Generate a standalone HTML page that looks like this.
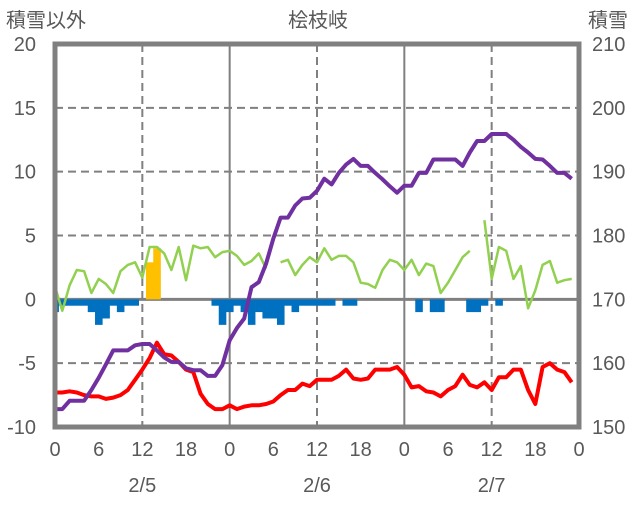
<!DOCTYPE html>
<html><head><meta charset="utf-8"><style>
body{margin:0;background:#fff;}
svg text{font-family:"Liberation Sans","Noto Sans CJK JP",sans-serif;fill:#595959;}
</style></head><body>
<svg id="chart" width="636" height="501" xmlns="http://www.w3.org/2000/svg">
<text x="6" y="27" font-size="20">積雪以外</text>
<text x="318" y="27" font-size="20" text-anchor="middle">桧枝岐</text>
<text x="588" y="27" font-size="20">積雪</text>
<g id="grid"></g><g id="bars"></g><g id="lines"></g><g id="frame"></g><g id="labels"></g>
</svg>
<script>
const hourTicks=["0","6","12","18","0","6","12","18","0","6","12","18","0"];
const dateLabels=["2/5","2/6","2/7"];
const leftTicks=[20,15,10,5,0,-5,-10];
const rightTicks=[210,200,190,180,170,160,150];
const snowDepth=[152.8,152.8,154.1,154.1,154.1,155.8,157.7,159.8,162.0,162.0,162.0,162.8,163.0,163.0,162.0,160.9,160.2,160.2,159.2,158.9,158.9,158.0,158.0,159.7,163.6,165.5,167.0,171.9,172.7,175.6,179.5,182.8,182.8,184.7,185.8,185.9,187.0,188.9,188.0,189.8,191.1,192.0,190.9,190.9,189.8,188.8,187.7,186.7,187.8,187.8,189.8,189.8,191.9,191.9,191.9,191.9,190.9,193.0,194.8,194.8,195.9,195.9,195.9,195.0,193.9,193.0,192.0,191.9,190.9,189.8,189.8,188.9];
const temperature=[-7.3,-7.3,-7.2,-7.3,-7.5,-7.6,-7.6,-7.8,-7.7,-7.5,-7.1,-6.3,-5.5,-4.6,-3.4,-4.3,-4.4,-4.9,-5.5,-5.7,-7.4,-8.2,-8.6,-8.6,-8.3,-8.6,-8.4,-8.3,-8.3,-8.2,-8.0,-7.5,-7.1,-7.1,-6.6,-6.8,-6.3,-6.3,-6.3,-6.0,-5.5,-6.2,-6.3,-6.2,-5.5,-5.5,-5.5,-5.3,-5.9,-6.9,-6.8,-7.2,-7.3,-7.6,-7.1,-6.8,-5.9,-6.7,-6.9,-6.5,-7.1,-6.1,-6.1,-5.5,-5.5,-7.1,-8.2,-5.3,-5.0,-5.5,-5.7,-6.5];
const wind=[1.0,-0.9,1.1,2.3,2.2,0.5,1.6,1.2,0.5,2.2,2.7,2.9,1.7,4.1,4.1,3.6,2.3,4.1,1.5,4.2,4.0,4.1,3.3,3.7,3.8,3.4,2.7,3.0,3.6,2.4,null,2.9,3.1,1.9,2.7,3.3,2.9,4.0,3.1,3.4,3.4,2.9,1.3,1.2,0.9,2.3,3.1,2.9,2.3,3.1,1.9,2.8,2.6,0.5,1.3,2.3,3.3,3.8,null,6.2,1.6,4.1,3.8,1.6,2.6,-0.7,0.7,2.7,3.0,1.3,1.5,1.6];
const snowChange=[-1.0,-0.5,-0.5,-0.5,-0.5,-1.0,-2.0,-1.5,-0.5,-1.0,-0.5,-0.5,0,2.9,4.0,0,0,0,0,0,0,0,-0.5,-2.0,-1.0,-0.5,-1.0,-2.0,-1.0,-1.5,-1.5,-2.0,-0.5,-1.0,-0.5,-0.5,-0.5,-0.5,-0.5,0,-0.5,-0.5,0,0,0,0,0,0,0,0,-1.0,0,-1.0,-1.0,0,0,0,-1.0,-1.0,-0.5,0,-0.5,0,0,0,0,0,0,0,0,0,0];

const X0=55,X1=579,Y0=44,Y1=427,NS="http://www.w3.org/2000/svg";
const xH=h=>X0+(X1-X0)*h/72;
const yL=v=>Y1-(v+10)/30*(Y1-Y0);
const yR=v=>Y1-(v-150)/60*(Y1-Y0);
function mk(tag,attrs,parent){const e=document.createElementNS(NS,tag);for(const k in attrs)e.setAttribute(k,attrs[k]);document.getElementById(parent).appendChild(e);return e;}
// grid
[15,10,5,-5].forEach(v=>{const l=mk('line',{x1:X0,x2:X1,y1:yL(v),y2:yL(v),stroke:'#808080','stroke-width':2,'stroke-dasharray':'8,5'},'grid');

});
[12,36,60].forEach(h=>{const l=mk('line',{x1:xH(h),x2:xH(h),y1:Y0,y2:Y1,stroke:'#808080','stroke-width':2,'stroke-dasharray':'8,5'},'grid');

});
[24,48].forEach(h=>{const l=mk('line',{x1:xH(h),x2:xH(h),y1:Y0,y2:Y1,stroke:'#808080','stroke-width':2},'grid');

});
// bars
const bw=(X1-X0)/72;
snowChange.forEach((v,i)=>{if(!v)return;const c=xH(i);let x=Math.max(X0,c-bw/2),w=Math.min(c+bw/2,X1)-x;
const b=mk('rect',{x:x,width:w+0.3,y:Math.min(yL(0),yL(v)),height:Math.abs(yL(v)-yL(0)),fill:v>0?'#FFC000':'#0070C0'},'bars');

});
// zero line
const z=mk('line',{x1:X0,x2:X1,y1:yL(0),y2:yL(0),stroke:'#808080','stroke-width':3},'grid');


function series(arr,yf,color,name){let d='',pen=false;arr.forEach((v,i)=>{if(v===null){pen=false;return;}d+=(pen?'L':'M')+xH(i).toFixed(1)+','+yf(v).toFixed(1);pen=true;});
const p=mk('path',{d:d,fill:'none',stroke:color,'stroke-width':name==='wind-line'?2.5:4,'stroke-linejoin':'round'},'lines');

}
series(wind,yL,'#92D050','wind-line');
series(temperature,yL,'#FF0000','temperature-line');
series(snowDepth,yR,'#7030A0','snow-depth-line');
const f=mk('rect',{x:X0,y:Y0,width:X1-X0,height:Y1-Y0,fill:'none',stroke:'#808080','stroke-width':5},'frame');


leftTicks.forEach(v=>{const t=mk('text',{x:36,y:yL(v)+7,'font-size':20,'text-anchor':'end'},'labels');t.textContent=v;

});
rightTicks.forEach(v=>{const t=mk('text',{x:592,y:yR(v)+7,'font-size':20},'labels');t.textContent=v;

});
hourTicks.forEach((s,i)=>{const t=mk('text',{x:xH(i*6),y:456,'font-size':20,'text-anchor':'middle'},'labels');t.textContent=s;

});
dateLabels.forEach((s,i)=>{const t=mk('text',{x:xH(12+i*24),y:492,'font-size':20,'text-anchor':'middle'},'labels');t.textContent=s;

});
</script>
</body></html>
